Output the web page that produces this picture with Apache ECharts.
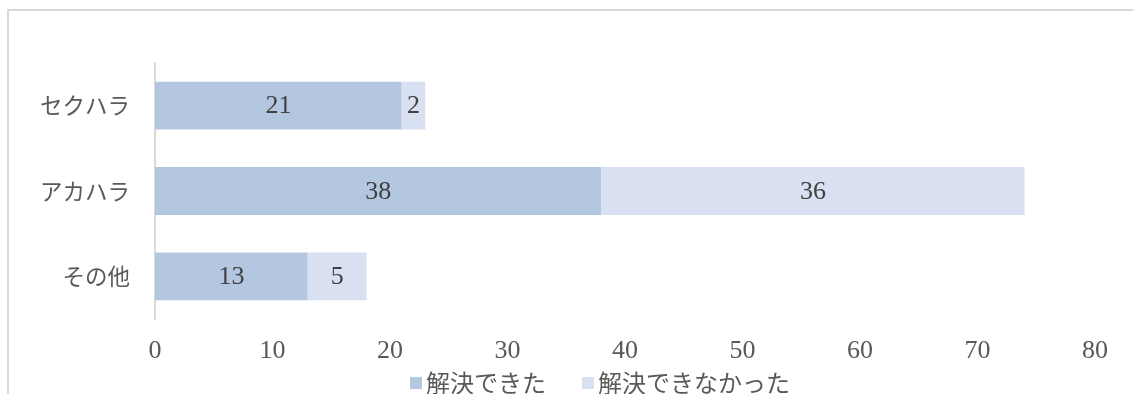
<!DOCTYPE html>
<html><head><meta charset="utf-8">
<script src="https://cdn.jsdelivr.net/npm/echarts@6/dist/echarts.min.js"></script>
<style>html,body{margin:0;padding:0;background:#fff}#c{width:1133px;height:394px}</style>
</head><body><div id="c"></div>
<script>
const categories = ['その他', 'アカハラ', 'セクハラ'];
const seriesNames = ['解決できた', '解決できなかった'];
const resolved = [13, 38, 21];
const unresolved = [5, 36, 2];
const xTicks = [0, 10, 20, 30, 40, 50, 60, 70, 80];

const serif = '"Liberation Serif","DejaVu Serif",serif';
const jp = '"Noto Sans CJK JP","Noto Sans",sans-serif';
const chart = echarts.init(document.getElementById('c'));
chart.setOption({
  animation: false,
  graphic: [{type:'rect', shape:{x:8,y:10,width:1200,height:500}, style:{fill:'none', stroke:'#d9d9d9', lineWidth:2}, silent:true}],
  grid: {left:155, right:38, top:63, bottom:75},
  legend: {
    data: seriesNames, top: 366, left: 405, icon: 'rect', itemWidth: 12, itemHeight: 12, itemGap: 36,
    textStyle: {fontFamily: jp, fontSize: 24, color: '#595959', padding:[0,0,0,-1]}
  },
  xAxis: {
    type:'value', min: xTicks[0], max: xTicks[xTicks.length-1], interval: 10,
    axisLine:{show:false}, axisTick:{show:false}, splitLine:{show:false},
    axisLabel:{fontFamily: serif, fontSize: 26, color:'#595959', margin: 19}
  },
  yAxis: {
    type:'category', data: categories,
    axisLine:{show:true, lineStyle:{color:'#d9d9d9', width:2}}, axisTick:{show:false},
    axisLabel:{fontFamily: jp, fontSize: 22.5, color:'#595959', margin: 25}
  },
  series: [
    {name: seriesNames[0], type:'bar', stack:'a', data: resolved, barWidth: '56%',
     itemStyle:{color:'#b4c7e1'},
     label:{show:true, position:'inside', fontFamily: serif, fontSize: 26, color:'#404040', offset:[0,1]}},
    {name: seriesNames[1], type:'bar', stack:'a', data: unresolved, barWidth: '56%',
     itemStyle:{color:'#d9e0f1'},
     label:{show:true, position:'inside', fontFamily: serif, fontSize: 26, color:'#404040', offset:[0,1]}}
  ]
});
</script></body></html>
